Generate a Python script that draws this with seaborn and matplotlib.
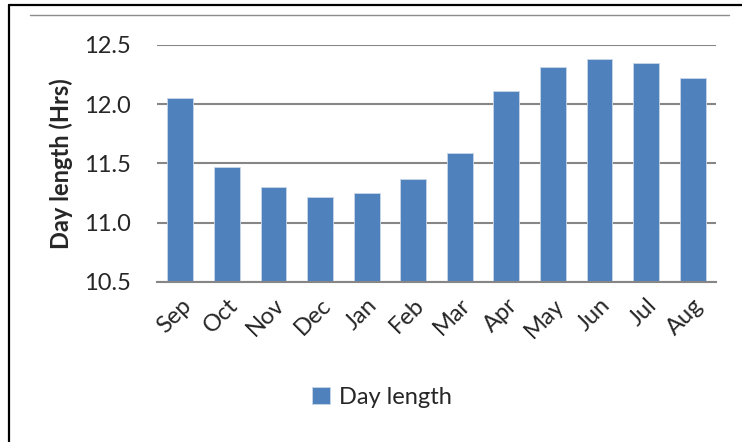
import matplotlib
matplotlib.use("Agg")
import matplotlib.pyplot as plt
from matplotlib.lines import Line2D
import seaborn as sns
import pandas as pd

months = ["Sep", "Oct", "Nov", "Dec", "Jan", "Feb", "Mar", "Apr", "May", "Jun", "Jul", "Aug"]
day_length = [12.05, 11.47, 11.30, 11.22, 11.25, 11.37, 11.59, 12.11, 12.31, 12.38, 12.35, 12.22]
yticks = [10.5, 11.0, 11.5, 12.0, 12.5]
series_name = "Day length"

sns.set_theme(style="white")
plt.rcParams["font.family"] = ["Lato", "DejaVu Sans"]

W, H = 742, 442
fig = plt.figure(figsize=(W / 100, H / 100), dpi=100)
ax = fig.add_axes([157 / W, 1 - 282 / H, (716 - 157) / W, (282 - 44.5) / H])

df = pd.DataFrame({"Month": months, "Value": day_length})
sns.barplot(data=df, x="Month", y="Value", ax=ax, color="#4F81BD", saturation=1,
            width=0.556, edgecolor="#c9d7ea", linewidth=0.6, label=series_name)
if ax.get_legend() is not None:
    ax.get_legend().remove()

ax.set_ylim(10.5, 12.503)
ax.set_xlim(-0.5, len(months) - 0.5)
ax.set_yticks(yticks)
ax.set_yticklabels([f"{v:.1f}" for v in yticks], fontsize=17)
ax.yaxis.grid(True, color="#868686", linewidth=1.5)
ax.set_axisbelow(True)
for s in ["top", "right", "left"]:
    ax.spines[s].set_visible(False)
ax.spines["bottom"].set_color("#868686")
ax.spines["bottom"].set_linewidth(1.5)
ax.tick_params(axis="both", length=0)
ax.tick_params(axis="y", pad=19)
ax.tick_params(axis="x", pad=9)
ax.set_xlabel("")
ax.set_ylabel("Day length (Hrs)", fontsize=17, fontweight="bold", labelpad=8)
plt.setp(ax.get_xticklabels(), rotation=45, ha="right", rotation_mode="anchor", fontsize=17)

handles, labels = ax.get_legend_handles_labels()
fig.legend(handles, labels, loc="center", bbox_to_anchor=(382 / W, 1 - 397 / H), frameon=False,
           fontsize=17, handlelength=0.75, handleheight=0.75, handletextpad=0.4)

# outer borders
fig.add_artist(Line2D([8.5 / W, 1], [1 - 4.5 / H, 1 - 4.5 / H], color="black", lw=1.6, transform=fig.transFigure))
fig.add_artist(Line2D([8.5 / W, 8.5 / W], [1 - 4.5 / H, 0], color="black", lw=1.6, transform=fig.transFigure))
fig.add_artist(Line2D([30 / W, 729 / W], [1 - 15 / H, 1 - 15 / H], color="#8c8c8c", lw=1.0, transform=fig.transFigure))

fig.savefig("out.png", dpi=100)
